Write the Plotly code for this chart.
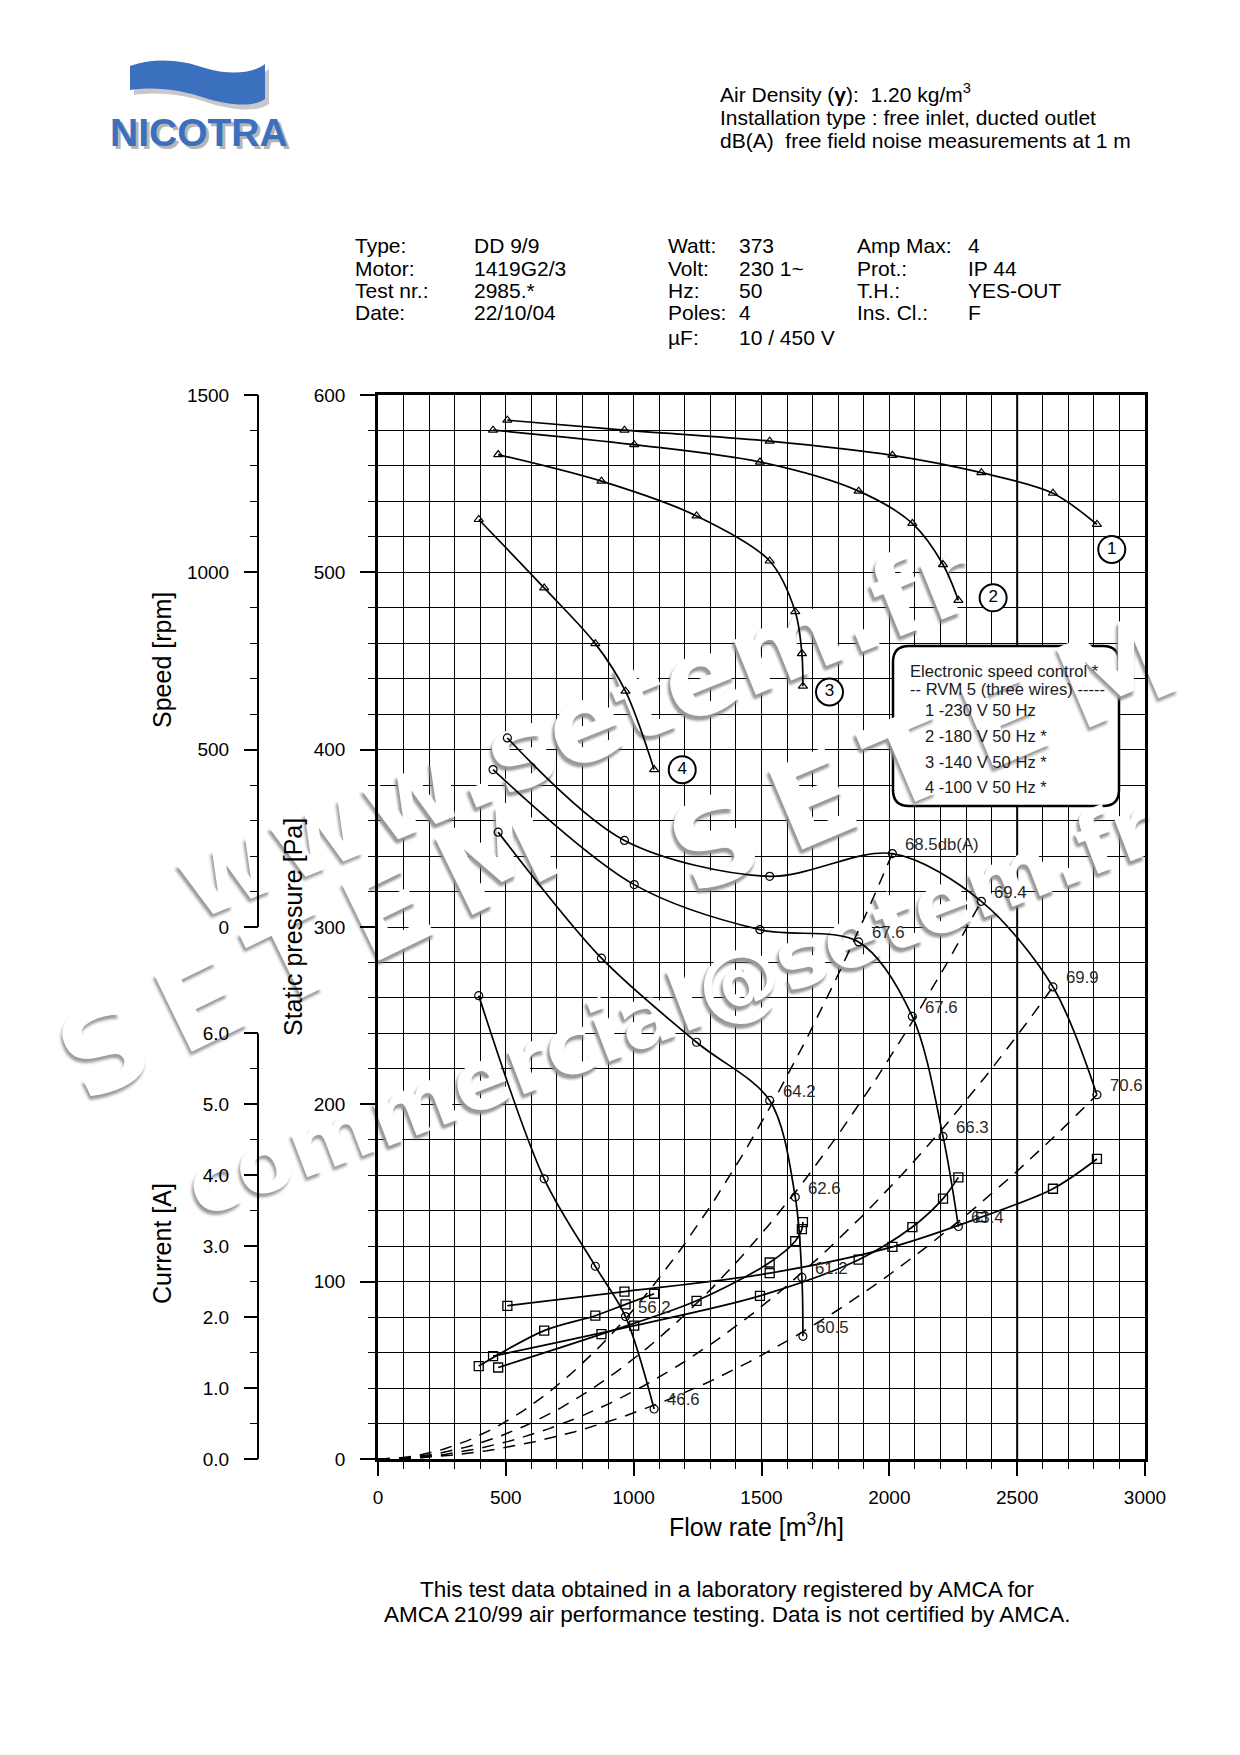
import math
import numpy as np
import plotly.graph_objects as go

# ---------------- data ----------------
flow_230 = [506, 964, 1532, 2012, 2360, 2640, 2812]
pressure_230 = [406.6, 348.8, 328.6, 341.4, 314.5, 266.2, 205.4]
speed_230 = [1429, 1401, 1370, 1330, 1281, 1223, 1135]
current_230 = [2.16, 2.36, 2.62, 2.99, 3.41, 3.81, 4.23]
noise_230 = [68.5, 69.4, 69.9, 70.6]

flow_180 = [450, 1002, 1494, 1880, 2090, 2210, 2270]
pressure_180 = [388.8, 323.9, 298.5, 291.6, 249.6, 181.9, 131.1]
speed_180 = [1401, 1360, 1311, 1229, 1138, 1022, 921]
current_180 = [1.45, 1.88, 2.30, 2.81, 3.27, 3.67, 3.97]
noise_180 = [67.6, 67.6, 66.3, 63.4]

flow_140 = [470, 874, 1246, 1532, 1632, 1658, 1662]
pressure_140 = [353.5, 282.4, 235.0, 202.2, 147.7, 102.5, 69.2]
speed_140 = [1332, 1257, 1159, 1032, 889, 771, 679]
current_140 = [1.29, 1.76, 2.23, 2.77, 3.07, 3.24, 3.34]
noise_140 = [64.2, 62.6, 61.2, 60.5]

flow_100 = [394, 650, 850, 968, 1080]
pressure_100 = [261.3, 158.0, 108.7, 80.3, 28.2]
speed_100 = [1149, 956, 799, 665, 444]
current_100 = [1.31, 1.81, 2.02, 2.18, 2.33]
noise_100 = [56.2, 46.6]

curve_ids = ["1", "2", "3", "4"]
legend_lines = ["1 -230 V 50 Hz", "2 -180 V 50 Hz *", "3 -140 V 50 Hz *", "4 -100 V 50 Hz *"]

x_ticks = [0, 500, 1000, 1500, 2000, 2500, 3000]
speed_ticks = [0, 500, 1000, 1500]
speed_minor = [100, 200, 300, 400, 600, 700, 800, 900, 1100, 1200, 1300, 1400]
current_ticks = [0, 1, 2, 3, 4, 5, 6]
current_minor = [0.5, 1.5, 2.5, 3.5, 4.5, 5.5]

# ---------------- geometry helpers (page pixel coords) ----------------
PAGE_OFF = 8                      # default body margin of the html page
W, H = 1240 - PAGE_OFF, 1755 - PAGE_OFF
PL, PR, PT, PB = 200, 1145, 395, 1459   # paper box in page pixels
XL = 378                                 # left edge of the plotting frame
ML, MT = PL - PAGE_OFF, PT - PAGE_OFF
MR, MB = W - (PR - PAGE_OFF), H - (PB - PAGE_OFF)
PW, PH = PR - PL, PB - PT
FONT = "Liberation Sans, Arial, Helvetica, sans-serif"
X_MAX, Y_MAX = 3000, 600


def px(x):
    return (x - PL) / PW


def py(y):
    return (PB - y) / PH


def dxv(x):          # page px -> flow units (for frame-referenced decorations)
    return (x - XL) * X_MAX / (PR - XL)


def dyv(y):          # page px -> pressure units
    return (PB - y) * Y_MAX / (PB - PT)


fig = go.Figure()

curves = [
    (flow_230, pressure_230, speed_230, current_230, noise_230),
    (flow_180, pressure_180, speed_180, current_180, noise_180),
    (flow_140, pressure_140, speed_140, current_140, noise_140),
    (flow_100, pressure_100, speed_100, current_100, noise_100),
]

# dashed system curves (parabolas through the origin and the noise points of curve 1;
# the noise points of the lower speeds lie on the same system curves)
n1 = len(noise_230)
for q, p in zip(flow_230[-n1:], pressure_230[-n1:]):
    qs = np.linspace(0, q, 100)
    ps = p * (qs / q) ** 2
    fig.add_trace(go.Scatter(x=qs, y=ps, mode="lines",
                             line=dict(color="black", width=1.5, dash="12px,9px"),
                             hoverinfo="skip", showlegend=False))

for flow, pres, spd, cur, noise in curves:
    fig.add_trace(go.Scatter(x=flow, y=pres, mode="lines+markers", showlegend=False,
                             line=dict(color="black", width=1.7, shape="spline", smoothing=0.9),
                             marker=dict(symbol="circle-open", size=8, color="black", line=dict(width=1.2))))
    fig.add_trace(go.Scatter(x=flow, y=spd, yaxis="y2", mode="lines+markers", showlegend=False,
                             line=dict(color="black", width=1.7, shape="spline", smoothing=0.9),
                             marker=dict(symbol="triangle-up-open", size=8, color="black", line=dict(width=1.2))))
    fig.add_trace(go.Scatter(x=flow, y=cur, yaxis="y3", mode="lines+markers", showlegend=False,
                             line=dict(color="black", width=1.7, shape="spline", smoothing=0.9),
                             marker=dict(symbol="square-open", size=9, color="black", line=dict(width=1.3))))

# numbered curve labels
num_pos = [(2870, 512.9), (2406, 485.6), (1766, 432.5), (1190, 388.7)]
fig.add_trace(go.Scatter(x=[p[0] for p in num_pos], y=[p[1] for p in num_pos], mode="markers+text",
                         text=curve_ids, textposition="middle center", showlegend=False,
                         textfont=dict(family=FONT, size=17, color="black"),
                         marker=dict(symbol="circle", size=27, color="white", line=dict(color="black", width=2))))

annotations = []
# noise labels
for ci, (flow, pres, spd, cur, noise) in enumerate(curves):
    n = len(noise)
    for j, (q, p, v) in enumerate(zip(flow[-n:], pres[-n:], noise)):
        txt = f"{v:.1f}" + ("db(A)" if (ci == 0 and j == 0) else "")
        annotations.append(dict(x=q, y=p, xref="x", yref="y", text=txt, showarrow=False,
                                xanchor="left", yanchor="middle", xshift=11, yshift=9,
                                font=dict(family=FONT, size=16.8, color="#2a2a2a")))


def ann(x, y, text, size=21, xanchor="left", yanchor="middle", angle=0, color="black", **kw):
    annotations.append(dict(x=px(x), y=py(y), xref="paper", yref="paper", text=text, showarrow=False,
                            xanchor=xanchor, yanchor=yanchor, textangle=angle,
                            font=dict(family=FONT, size=size, color=color), **kw))


# header
ann(718, 93, "Air Density (<b>γ</b>):  1.20 kg/m<sup>3</sup>")
ann(718, 117, "Installation type : free inlet, ducted outlet")
ann(718, 140, "dB(A)  free field noise measurements at 1 m")

info = [
    (353, ["Type:", "Motor:", "Test nr.:", "Date:"]),
    (472, ["DD 9/9", "1419G2/3", "2985.*", "22/10/04"]),
    (666, ["Watt:", "Volt:", "Hz:", "Poles:", "µF:"]),
    (737, ["373", "230 1~", "50", "4", "10 / 450 V"]),
    (855, ["Amp Max:", "Prot.:", "T.H.:", "Ins. Cl.:"]),
    (966, ["4", "IP 44", "YES-OUT", "F"]),
]
rows_y = [246, 269, 291, 313, 337]
for xx, items in info:
    for yy, t in zip(rows_y, items):
        ann(xx, yy, t)

# axis titles
ann(756, 1525, "Flow rate [m<sup>3</sup>/h]", size=25, xanchor="center")
ann(293, 927, "Static pressure [Pa]", size=25, xanchor="center", angle=-90)
ann(162, 660, "Speed [rpm]", size=25, xanchor="center", angle=-90)
ann(162, 1244, "Current [A]", size=25, xanchor="center", angle=-90)

# footer
ann(727, 1589, "This test data obtained in a laboratory registered by AMCA for", size=22.5, xanchor="center")
ann(727, 1614, "AMCA 210/99 air performance testing. Data is not certified by AMCA.", size=22.5,
    xanchor="center")

# legend box texts
ann(908, 671, "Electronic speed control *", size=16.6, color="#1a1a1a")
ann(908, 689, "-- RVM 5 (three wires) -----", size=16.6, color="#1a1a1a")
for yy, t in zip([710, 736, 762, 787], legend_lines):
    ann(923, yy, t, size=16.6, color="#1a1a1a")

# logo text
ann(202, 136, "<b>NICOTRA</b>", size=39, xanchor="center", color="#b5b5b5")
ann(199, 133, "<b>NICOTRA</b>", size=39, xanchor="center", color="#3a70bd")

shapes = []


def P(x, y):
    return f"{px(x):.5f},{py(y):.5f}"


def D(x, y):
    return f"{dxv(x):.3f},{dyv(y):.3f}"


def wave(dx=0, dy=0):
    pts = [(130, 66), (155, 57), (182, 60), (205, 68), (228, 75), (252, 74), (265, 64),
           (265, 99), (252, 108), (228, 105), (205, 98), (182, 90), (155, 86), (130, 90)]
    pts = [(a + dx, b + dy) for a, b in pts]
    return (f"M{P(*pts[0])} C{P(*pts[1])} {P(*pts[2])} {P(*pts[3])} C{P(*pts[4])} {P(*pts[5])} {P(*pts[6])} "
            f"L{P(*pts[7])} C{P(*pts[8])} {P(*pts[9])} {P(*pts[10])} C{P(*pts[11])} {P(*pts[12])} {P(*pts[13])} Z")


shapes.append(dict(type="path", xref="paper", yref="paper", path=wave(4, 5), fillcolor="#c8c8c8",
                   line=dict(width=0), layer="above"))
shapes.append(dict(type="path", xref="paper", yref="paper", path=wave(), fillcolor="#3a70bd",
                   line=dict(width=0), layer="above"))

# axis lines of the speed and current scales (both at the same x, different spans)
SP_TOP, SP_BOT = 1.0, 0.5          # speed scale spans pressure 300..600
CU_TOP = 0.4                       # current scale spans pressure 0..240
shapes.append(dict(type="line", xref="paper", yref="paper", x0=px(258), x1=px(258), y0=SP_BOT, y1=SP_TOP,
                   line=dict(color="black", width=2)))
shapes.append(dict(type="line", xref="paper", yref="paper", x0=px(258), x1=px(258), y0=0, y1=CU_TOP,
                   line=dict(color="black", width=2)))

tickfont = dict(family=FONT, size=19, color="black")
fig.update_layout(
    width=W, height=H,
    margin=dict(l=ML, r=MR, t=MT, b=MB),
    paper_bgcolor="white", plot_bgcolor="rgba(0,0,0,0)",
    showlegend=False,
    xaxis=dict(domain=[px(XL), 1], range=[0, X_MAX], tickvals=x_ticks, ticks="outside", ticklen=14,
               tickwidth=1.6, tickcolor="black", showgrid=True, gridcolor="black", gridwidth=1.2,
               showline=True, linecolor="black", linewidth=3, mirror=True, zeroline=False,
               tickfont=tickfont, ticklabelstandoff=5, anchor="y",
               minor=dict(dtick=100, tick0=0, ticks="outside", ticklen=7, tickwidth=1.4, tickcolor="black",
                          showgrid=True, gridcolor="black", gridwidth=1.2)),
    yaxis=dict(domain=[0, 1], range=[0, Y_MAX], dtick=100, tick0=0, ticks="outside", ticklen=15,
               tickwidth=1.6, tickcolor="black", showgrid=True, gridcolor="black", gridwidth=1.2,
               showline=True, linecolor="black", linewidth=2.5, mirror=True, zeroline=False,
               tickfont=tickfont, ticklabelstandoff=11, anchor="x",
               minor=dict(dtick=20, tick0=0, ticks="outside", ticklen=7, tickwidth=1.4, tickcolor="black",
                          showgrid=True, gridcolor="black", gridwidth=1.2)),
    # speed: 0..1500 rpm occupies the upper half of the pressure frame
    yaxis2=dict(overlaying="y", range=[-1500, 1500], tickvals=speed_ticks, ticks="outside", ticklen=14,
                tickwidth=1.6, tickcolor="black", showgrid=False, showline=False, zeroline=False,
                anchor="free", position=px(258), side="left", tickfont=tickfont, ticklabelstandoff=11,
                minor=dict(tickvals=speed_minor, ticks="outside", ticklen=8, tickwidth=1.4, tickcolor="black",
                           showgrid=False)),
    # current: 0..6 A occupies the lower 40 % of the pressure frame
    yaxis3=dict(overlaying="y", range=[0, 15], tickvals=current_ticks, tickformat=".1f", ticks="outside",
                ticklen=14, tickwidth=1.6, tickcolor="black", showgrid=False, showline=False,
                zeroline=False, anchor="free", position=px(258), side="left", tickfont=tickfont,
                ticklabelstandoff=11,
                minor=dict(tickvals=current_minor, ticks="outside", ticklen=8, tickwidth=1.4,
                           tickcolor="black", showgrid=False)),
    annotations=annotations,
    shapes=shapes,
)

# heavier 2500 grid line and legend box, drawn above the grid (frame-referenced)
bx0, bx1, by0, by1, r = 893, 1119, 646, 806, 16
box = (f"M{D(bx0 + r, by0)} L{D(bx1 - r, by0)} Q{D(bx1, by0)} {D(bx1, by0 + r)} "
       f"L{D(bx1, by1 - r)} Q{D(bx1, by1)} {D(bx1 - r, by1)} L{D(bx0 + r, by1)} "
       f"Q{D(bx0, by1)} {D(bx0, by1 - r)} L{D(bx0, by0 + r)} Q{D(bx0, by0)} {D(bx0 + r, by0)} Z")
for layer in ("between", "above"):
    try:
        fig.add_shape(type="line", xref="x", yref="y", x0=2500, x1=2500, y0=0, y1=Y_MAX,
                      line=dict(color="black", width=2.0), layer=layer)
        fig.add_shape(type="path", xref="x", yref="y", path=box, fillcolor="white",
                      line=dict(color="black", width=2.5), layer=layer)
        break
    except Exception:
        continue

# watermark texts: text, centre (page px), angle, size
watermarks = [
    ("www.setem.fr", (572, 720), 22, 108),
    ("S\u2009E\u2009T\u2009E\u2009M", (305, 942), 26, 118),
    ("S\u2009E\u2009T\u2009E\u2009M", (921, 746), 23, 118),
    ("commercial@setem.fr", (669, 1001), 21, 84),
]


def wm_label(text, size):
    return dict(text=text, textposition="middle", yanchor="middle",
                font=dict(family="DejaVu Sans", size=size, color="white", weight="bold",
                          shadow="-3px 3px 3px #9a9a9a"))


for text, (cx, cy), ang, size in watermarks:
    L = 300
    ca, sa = math.cos(math.radians(ang)), math.sin(math.radians(ang))
    xa, ya, xb, yb = cx - L * ca, cy + L * sa, cx + L * ca, cy - L * sa
    # copy on the page (visible outside the frame, under the grid)
    try:
        fig.add_shape(type="line", xref="paper", yref="paper", x0=px(xa), y0=py(ya), x1=px(xb), y1=py(yb),
                      layer="below", line=dict(color="rgba(0,0,0,0)", width=1), label=wm_label(text, size))
    except Exception:
        pass
    # copy inside the frame (above the grid, under the curves)
    try:
        fig.add_shape(type="line", xref="x", yref="y", x0=dxv(xa), y0=dyv(ya), x1=dxv(xb), y1=dyv(yb),
                      layer="between", line=dict(color="rgba(0,0,0,0)", width=1), label=wm_label(text, size))
    except Exception:
        pass

fig.write_html("out.html")
